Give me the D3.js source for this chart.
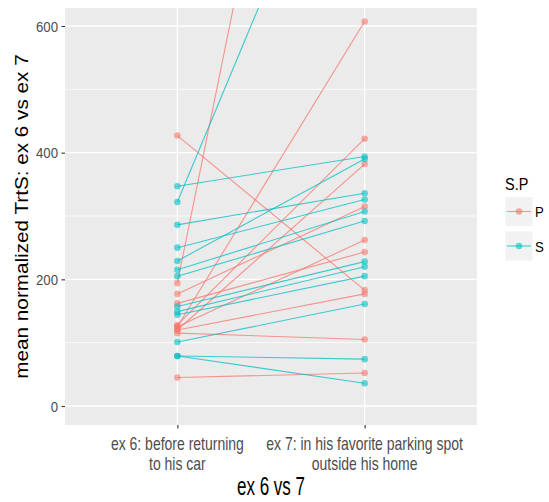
<!DOCTYPE html>
<html>
<head>
<meta charset="utf-8">
<script src="https://cdn.jsdelivr.net/npm/d3@7"></script>
<style>
  html, body { margin: 0; padding: 0; background: #ffffff; }
  svg { display: block; }
  text { font-family: "Liberation Sans", Arial, sans-serif; }
</style>
</head>
<body>
<svg id="chart" width="549" height="502"></svg>
<script>
// Paired observations: each subject has one value per condition.
const conditions = ["ex6", "ex7"];
const conditionLabels = [
  ["ex 6: before returning", "to his car"],
  ["ex 7: in his favorite parking spot", "outside his home"]
];
const groups = ["P", "S"];
const groupColors = ["#F8766D", "#00BFC4"];

const pEx6 = [427, 194, 125, 128, 120, 177, 125, 162, 120, 115, 45];
const pEx7 = [183, 1650, 607, 422, 382, 315, 262, 243, 177, 105, 52];
const sEx6 = [347, 322, 286, 250, 229, 215, 205, 157, 149, 144, 101, 79, 79];
const sEx7 = [394, 1030, 336, 326, 390, 307, 292, 228, 220, 205, 161, 74, 36];

const yTicks = [0, 200, 400, 600];
const yMinor = [100, 300, 500];
const yLimits = [-30, 628.4];

const subjects = [];
pEx6.forEach((v, i) => subjects.push({ group: "P", values: [v, pEx7[i]] }));
sEx6.forEach((v, i) => subjects.push({ group: "S", values: [v, sEx7[i]] }));

const panel = { left: 65, right: 477, top: 8, bottom: 425 };

const svg = d3.select("#chart");
const x = d3.scalePoint().domain(conditions)
  .range([panel.left, panel.right]).padding(0.6);
const y = d3.scaleLinear().domain(yLimits).range([panel.bottom, panel.top]);
const color = d3.scaleOrdinal().domain(groups).range(groupColors);

// panel background and grid
svg.append("rect")
  .attr("x", panel.left).attr("y", panel.top)
  .attr("width", panel.right - panel.left).attr("height", panel.bottom - panel.top)
  .attr("fill", "#EBEBEB");

const grid = svg.append("g");
grid.selectAll("line.minor").data(yMinor).join("line")
  .attr("x1", panel.left).attr("x2", panel.right)
  .attr("y1", d => y(d)).attr("y2", d => y(d))
  .attr("stroke", "#ffffff").attr("stroke-width", 0.8);
grid.selectAll("line.major").data(yTicks).join("line")
  .attr("x1", panel.left).attr("x2", panel.right)
  .attr("y1", d => y(d)).attr("y2", d => y(d))
  .attr("stroke", "#ffffff").attr("stroke-width", 1.3);
grid.selectAll("line.xmajor").data(conditions).join("line")
  .attr("x1", d => x(d)).attr("x2", d => x(d))
  .attr("y1", panel.top).attr("y2", panel.bottom)
  .attr("stroke", "#ffffff").attr("stroke-width", 1.3);

svg.append("clipPath").attr("id", "panel-clip")
  .append("rect")
  .attr("x", panel.left).attr("y", panel.top)
  .attr("width", panel.right - panel.left).attr("height", panel.bottom - panel.top);

const plot = svg.append("g").attr("clip-path", "url(#panel-clip)");
const line = d3.line().x((d, i) => x(conditions[i])).y(d => y(d));

plot.selectAll("path.subject").data(subjects).join("path")
  .attr("d", d => line(d.values))
  .attr("fill", "none")
  .attr("stroke", d => color(d.group))
  .attr("stroke-opacity", 0.75)
  .attr("stroke-width", 1.1);

const pts = [];
subjects.forEach(s => s.values.forEach((v, i) => pts.push({ group: s.group, cond: conditions[i], v })));
plot.selectAll("circle").data(pts).join("circle")
  .attr("cx", d => x(d.cond)).attr("cy", d => y(d.v))
  .attr("r", 3.3)
  .attr("fill", d => color(d.group))
  .attr("fill-opacity", 0.6);

// axes
const yAxis = svg.append("g").attr("transform", `translate(${panel.left},0)`)
  .call(d3.axisLeft(y).tickValues(yTicks).tickSize(3.5).tickPadding(3));
yAxis.select(".domain").remove();
yAxis.selectAll(".tick line").attr("stroke", "#333333").attr("stroke-width", 1.1);
yAxis.selectAll(".tick text")
  .attr("fill", "#4D4D4D").attr("font-size", 15)
  .attr("dy", "0.34em")
  .attr("x", null)
  .attr("transform", "translate(-7,0) scale(0.88,1)");

const xAxis = svg.append("g").attr("transform", `translate(0,${panel.bottom})`)
  .call(d3.axisBottom(x).tickSize(3.5).tickFormat(""));
xAxis.select(".domain").remove();
xAxis.selectAll(".tick line").attr("stroke", "#333333").attr("stroke-width", 1.1);

const xLab = svg.append("g");
conditions.forEach((c, i) => {
  conditionLabels[i].forEach((txt, j) => {
    xLab.append("text")
      .attr("transform", `translate(${x(c)},${450 + j * 19.5}) scale(0.8,1)`)
      .attr("text-anchor", "middle")
      .attr("font-size", 17.5)
      .attr("fill", "#4D4D4D")
      .text(txt);
  });
});

// axis titles
svg.append("text")
  .attr("transform", `translate(${(panel.left + panel.right) / 2},495) scale(0.68,1)`)
  .attr("text-anchor", "middle").attr("font-size", 25).attr("fill", "#000")
  .text("ex 6 vs 7");

svg.append("text")
  .attr("transform", `translate(28,${(panel.top + panel.bottom) / 2}) rotate(-90) scale(1,0.86)`)
  .attr("text-anchor", "middle").attr("font-size", 20.7).attr("fill", "#000")
  .text("mean normalized TrtS: ex 6 vs ex 7");

// legend
const legend = svg.append("g");
legend.append("text")
  .attr("transform", "translate(505,190) scale(0.85,1)")
  .attr("font-size", 17).attr("fill", "#000").text("S.P");
groups.forEach((g, i) => {
  const cy = 211.5 + i * 34.5;
  legend.append("rect")
    .attr("x", 505.5).attr("y", cy - 14.5).attr("width", 27).attr("height", 29)
    .attr("fill", "#F2F2F2");
  legend.append("line")
    .attr("x1", 507).attr("x2", 531).attr("y1", cy).attr("y2", cy)
    .attr("stroke", color(g)).attr("stroke-opacity", 0.75).attr("stroke-width", 1.1);
  legend.append("circle")
    .attr("cx", 519).attr("cy", cy).attr("r", 3.3)
    .attr("fill", color(g)).attr("fill-opacity", 0.6);
  legend.append("text")
    .attr("transform", `translate(535,${cy + 5.5}) scale(0.85,1)`)
    .attr("font-size", 15.5).attr("fill", "#000").text(g);
});
</script>
</body>
</html>
